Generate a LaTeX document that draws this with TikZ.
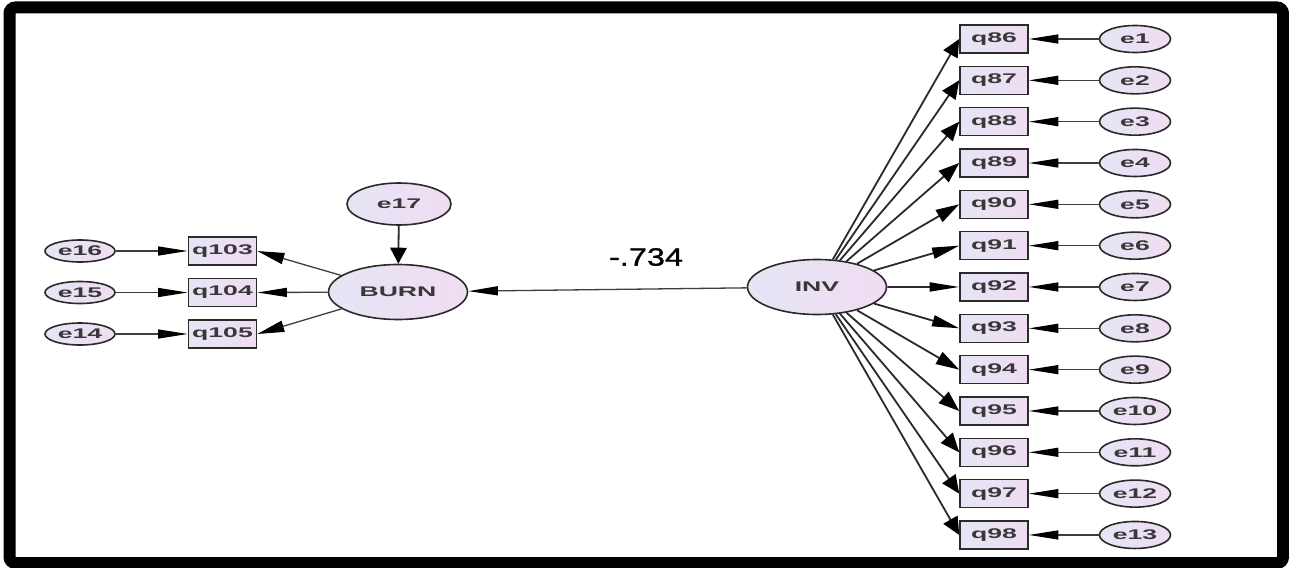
\documentclass[tikz,border=0pt]{standalone}
\usepackage{fontspec}
\usetikzlibrary{arrows.meta,shapes.geometric}

% Wide sans faces for the path-diagram labels
\newfontfamily\nodefont{Liberation Sans}[FakeStretch=1.9]
\newfontfamily\coeffont{Liberation Sans}[FakeStretch=1.3,FakeBold=1.2]

\definecolor{lavA}{HTML}{E6E5F5}
\definecolor{lavB}{HTML}{F0DCF2}
\definecolor{edgegray}{HTML}{2A2A2A}
\definecolor{txtgray}{HTML}{383838}

% Arrow head size for a path running along (dx,dy), in a horizontally stretched layout
\newcommand\setheadsize[2]{%
  \pgfmathsetmacro\hux{(#1)/185}%
  \pgfmathsetmacro\huy{(#2)/100}%
  \pgfmathsetmacro\hnn{sqrt(\hux*\hux+\huy*\huy)}%
  \pgfmathsetmacro\hux{\hux/\hnn}%
  \pgfmathsetmacro\huy{\huy/\hnn}%
  \pgfmathsetmacro\hL{16*sqrt(3.4225*\hux*\hux+\huy*\huy)}%
  \pgfmathsetmacro\hW{9*sqrt(3.4225*\huy*\huy+\hux*\hux)}%
}

\tikzset{
  labeltext/.style={font=\nodefont\bfseries\fontsize{14}{14}\selectfont, text=txtgray},
  latent/.style={ellipse, draw=edgegray, line width=1.6pt, left color=lavA, right color=lavB,
    inner sep=0pt, labeltext},
  observed/.style={rectangle, draw=edgegray, line width=1.6pt, left color=lavA, right color=lavB,
    inner sep=0pt, minimum width=68pt, minimum height=28pt, labeltext},
  errright/.style={latent, minimum width=71pt, minimum height=27pt},
  errleft/.style={latent, minimum width=70pt, minimum height=22pt},
  bigvar/.style={latent, minimum width=139pt, minimum height=55pt},
  loading/.style={draw=edgegray, line width=1.8pt},
  errpath/.style={draw=edgegray!90, line width=1.3pt},
  hhead/.style={-{Triangle[length=29.6pt,width=9pt,color=black]}},
}

\begin{document}
\begin{tikzpicture}[x=1pt, y=-1pt]
  \useasboundingbox (0,0) rectangle (1289,567);
  \fill[white] (0,0) rectangle (1289,567);

  % thick outer frame
  \draw[line width=12pt, rounded corners=6pt] (9.5,7.5) rectangle (1283,563);

  % latent variables
  \node[bigvar] (inv) at (817,287) {INV};
  \node[bigvar] (burn) at (398,292) {BURN};
  \node[latent, minimum width=104pt, minimum height=42pt] (e17) at (399,204) {e17};

  % INV indicators with their error terms
  \foreach \i [count=\k from 0] in {86,...,98} {
    \pgfmathsetmacro\yy{39+41.33*\k}
    \pgfmathtruncatemacro\ei{\k+1}
    \node[observed] (q\i) at (994,\yy) {q\i};
    \node[errright] (e\ei) at (1135,\yy) {e\ei};
  }
  \foreach \i [count=\k from 0] in {86,...,98} {
    \pgfmathsetmacro\yy{39+41.33*\k}
    \pgfmathtruncatemacro\ei{\k+1}
    \setheadsize{960-817}{\yy-287}
    \draw[loading, -{Triangle[length=\hL pt,width=\hW pt,color=black]}] (inv) -- (q\i.west);
    \draw[errpath, hhead] (e\ei) -- (q\i.east);
  }

  % BURN indicators with their error terms
  \node[observed] (q103) at (222.5,251) {q103};
  \node[observed] (q104) at (222.5,292.5) {q104};
  \node[observed] (q105) at (222.5,334) {q105};
  \node[errleft] (e16) at (80,251) {e16};
  \node[errleft] (e15) at (80,292.5) {e15};
  \node[errleft] (e14) at (80,334) {e14};

  \draw[errpath, hhead] (e16) -- (q103.west);
  \draw[errpath, hhead] (e15) -- (q104.west);
  \draw[errpath, hhead] (e14) -- (q105.west);

  \setheadsize{-139}{-41}
  \draw[errpath, -{Triangle[length=\hL pt,width=\hW pt,color=black]}] (burn) -- (q103.east);
  \draw[errpath, hhead] (burn) -- (q104.east);
  \setheadsize{-139}{42}
  \draw[errpath, -{Triangle[length=\hL pt,width=\hW pt,color=black]}] (burn) -- (q105.east);

  % disturbance of BURN
  \draw[loading, -{Triangle[length=16pt,width=16.6pt,color=black]}] (e17) -- (burn);

  % structural path INV -> BURN
  \draw[errpath, hhead] (inv) -- (burn);
  \node[font=\coeffont\fontsize{25}{25}\selectfont, text=black] (coef) at (646,257) {-.734};
\end{tikzpicture}
\end{document}
